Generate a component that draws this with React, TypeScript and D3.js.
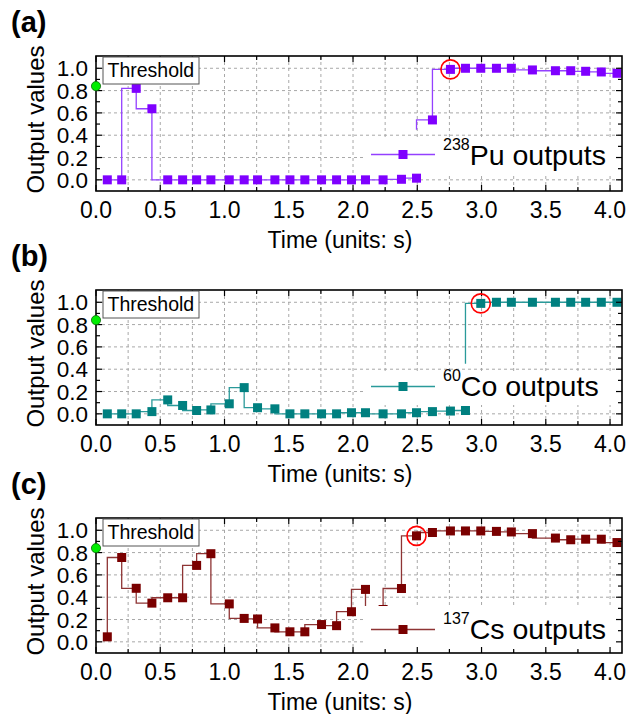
import React from "react";
import * as d3 from "d3";

// sample times (s), shared by all three traces
const times = [0.088, 0.2, 0.313, 0.435, 0.558, 0.674, 0.783, 0.894, 1.037, 1.153, 1.257, 1.392, 1.509, 1.625,
  1.755, 1.872, 1.988, 2.097, 2.234, 2.377, 2.494, 2.618, 2.758, 2.875, 2.994, 3.116, 3.232, 3.396, 3.575,
  3.694, 3.81, 3.932, 4.054];

const puValues = [0, 0, 0.82, 0.637, 0, 0, 0, 0, 0, 0, 0, 0, 0, 0, 0, 0, 0, 0, 0, 0.005, 0.015, 0.537, 0.99,
  1.0, 1.0, 1.0, 1.0, 0.985, 0.978, 0.978, 0.973, 0.967, 0.955];
const coValues = [0, 0, 0, 0.02, 0.125, 0.075, 0.03, 0.035, 0.09, 0.235, 0.055, 0.045, 0, 0, 0, 0, 0.01, 0.01,
  0, 0, 0.01, 0.02, 0.025, 0.03, 0.99, 1, 1, 1, 1, 1, 1, 1, 1];
const csValues = [0.045, 0.756, 0.48, 0.347, 0.395, 0.395, 0.685, 0.79, 0.34, 0.21, 0.205, 0.125, 0.09, 0.09,
  0.155, 0.145, 0.27, 0.47, 0.29, 0.478, 0.95, 0.98, 0.994, 0.994, 0.994, 0.99, 0.985, 0.97, 0.93, 0.915,
  0.92, 0.92, 0.89];

const threshold = 0.84;
const xTickLabels = [0, 0.5, 1, 1.5, 2, 2.5, 3, 3.5, 4];
const yTickLabels = [0, 0.2, 0.4, 0.6, 0.8, 1.0];

const FONT = "'Liberation Sans', Arial, Helvetica, sans-serif";
const L = 96, R = 622, H = 135;

type PanelProps = {
  top: number;
  tag: string;
  values: number[];
  color: string;
  lineColor: string;
  iso: string;
  elem: string;
  hit: number; // index of circled point
  brk?: { after: number; from: number }; // trace restarts here
  legTop: number;
  legBot: number;
  legLine: number;
  legBase: number;
};

function Panel(p: PanelProps) {
  const x = d3.scaleLinear().domain([0, 4.093]).range([L, R]);
  const y = d3.scaleLinear().domain([-0.1, 1.11]).range([p.top + H, p.top]);
  const bottom = p.top + H;
  const pts: [number, number][] = times.map((t, i) => [t, p.values[i]]);
  const line = d3.line<[number, number]>().x(d => x(d[0])).y(d => y(d[1])).curve(d3.curveStepBefore);

  let segs: [number, number][][] = [pts];
  if (p.brk) {
    const a = p.brk.after;
    segs = [pts.slice(0, a + 1), [[times[a], p.brk.from] as [number, number], ...pts.slice(a + 1)]];
  }

  const xGrid = d3.range(1, 17).map(i => i * 0.25);
  const yGrid = yTickLabels;
  const xTicks = d3.range(0, 17).map(i => i * 0.25);
  const yTicks = d3.range(0, 11).map(i => i / 10);
  const ms = 9;

  return (
    <g>
      <text x={11} y={p.top - 24} fontFamily={FONT} fontWeight="bold" fontSize={29}>{p.tag}</text>
      {/* grid */}
      {xGrid.map(v => (
        <line key={"gx" + v} x1={x(v)} x2={x(v)} y1={p.top} y2={bottom} stroke="#a8a8a8" strokeWidth={1} strokeDasharray="3,3" />
      ))}
      {yGrid.map(v => (
        <line key={"gy" + v} x1={L} x2={R} y1={y(v)} y2={y(v)} stroke="#a8a8a8" strokeWidth={1} strokeDasharray="3,3" />
      ))}
      {/* trace */}
      {segs.map((s, i) => (
        <path key={"s" + i} d={line(s) || ""} fill="none" stroke={p.lineColor} strokeWidth={1.3} />
      ))}
      {pts.map((d, i) => (
        <rect key={"m" + i} x={x(d[0]) - ms / 2} y={y(d[1]) - ms / 2} width={ms} height={ms} fill={p.color} />
      ))}
      {/* legend */}
      <rect x={364} y={p.legTop} width={R - 365} height={p.legBot - p.legTop} fill="#fff" />
      <line x1={371} x2={435} y1={p.legLine} y2={p.legLine} stroke={p.lineColor} strokeWidth={1.3} />
      <rect x={403 - ms / 2} y={p.legLine - ms / 2} width={ms} height={ms} fill={p.color} />
      <text x={443} y={p.legBase} fontFamily={FONT} fill="#000">
        <tspan fontSize={16} dy={-15}>{p.iso}</tspan>
        <tspan fontSize={28.5} dy={15}>{p.elem + " outputs"}</tspan>
      </text>
      {/* frame + ticks */}
      <rect x={L} y={p.top} width={R - L} height={H} fill="none" stroke="#000" strokeWidth={1.6} />
      {xTicks.map((v, i) => {
        const len = i % 2 === 0 ? 6 : 4;
        return (
          <g key={"tx" + v}>
            <line x1={x(v)} x2={x(v)} y1={bottom} y2={bottom - len} stroke="#000" strokeWidth={1.2} />
            <line x1={x(v)} x2={x(v)} y1={p.top} y2={p.top + len} stroke="#000" strokeWidth={1.2} />
          </g>
        );
      })}
      {yTicks.map((v, i) => {
        const len = i % 2 === 0 ? 6 : 4;
        return (
          <g key={"ty" + v}>
            <line x1={L} x2={L + len} y1={y(v)} y2={y(v)} stroke="#000" strokeWidth={1.2} />
            <line x1={R} x2={R - len} y1={y(v)} y2={y(v)} stroke="#000" strokeWidth={1.2} />
          </g>
        );
      })}
      {xTickLabels.map(v => (
        <text key={"lx" + v} x={x(v)} y={bottom + 27} textAnchor="middle" fontFamily={FONT} fontSize={23}>{v.toFixed(1)}</text>
      ))}
      {yTickLabels.map(v => (
        <text key={"ly" + v} x={88} y={y(v)} dy="0.36em" textAnchor="end" fontFamily={FONT} fontSize={22.5}>{v.toFixed(1)}</text>
      ))}
      <text x={(L + R) / 2 - 19} y={bottom + 57} textAnchor="middle" fontFamily={FONT} fontSize={23}>Time (units: s)</text>
      <text transform={`translate(44,${p.top + H / 2 - 4}) rotate(-90)`} textAnchor="middle" fontFamily={FONT} fontSize={24}>Output values</text>
      {/* threshold */}
      <rect x={103} y={p.top + 1} width={96} height={27} fill="#fff" stroke="#555" strokeWidth={1} />
      <text x={107.5} y={p.top + 21} fontFamily={FONT} fontSize={19.5}>Threshold</text>
      <circle cx={L} cy={y(threshold)} r={4.6} fill="#00ee00" stroke="#0a6a0a" strokeWidth={0.8} />
      {/* detection point */}
      <circle cx={x(times[p.hit])} cy={y(p.values[p.hit])} r={9.5} fill="none" stroke="#ff0000" strokeWidth={1.6} />
    </g>
  );
}

export default function App() {
  return (
    <svg width={629} height={714} style={{ position: "absolute", left: 0, top: 0, background: "#fff" }}>
      <Panel top={56} tag="(a)" values={puValues} color="#7f00ff" lineColor="#9440ff" iso="238" elem="Pu"
        hit={22} brk={{ after: 20, from: 0.45 }} legTop={137} legBot={173} legLine={154.5} legBase={165} />
      <Panel top={290} tag="(b)" values={coValues} color="#008080" lineColor="#2a9a9a" iso="60" elem="Co"
        hit={24} brk={{ after: 23, from: 0.45 }} legTop={371} legBot={405} legLine={386.5} legBase={396} />
      <Panel top={518} tag="(c)" values={csValues} color="#7a0000" lineColor="#8e3434" iso="137" elem="Cs"
        hit={20} legTop={606} legBot={648} legLine={629.5} legBase={639} />
    </svg>
  );
}
